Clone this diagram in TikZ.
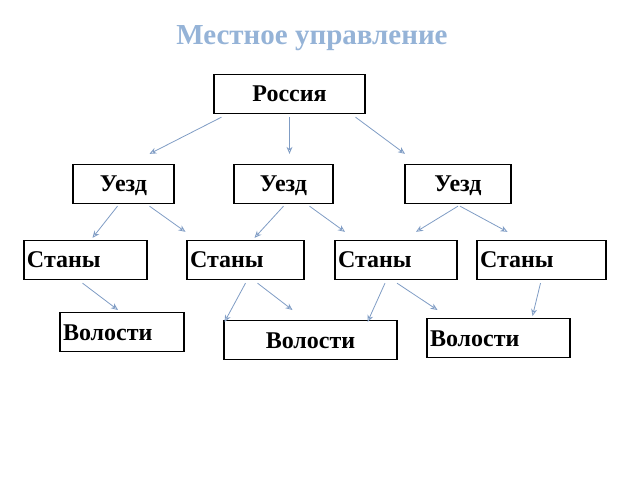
\documentclass[tikz,border=0pt]{standalone}
\usepackage{fontspec}
\setmainfont{Liberation Serif}
\usetikzlibrary{arrows.meta}
\definecolor{ttl}{HTML}{95B3D7}
\definecolor{arc}{HTML}{7F9CC4}
\begin{document}
\begin{tikzpicture}[x=1pt,y=-1pt,
 box/.style={draw=black,line width=1.3pt,minimum height=39pt,inner xsep=4pt,font=\bfseries\fontsize{24}{26}\selectfont,text depth=0pt},
 lbox/.style={box,align=left},
 arr/.style={draw=arc,line width=0.8pt,-{Stealth[length=7pt,width=6pt,open]}}]
\useasboundingbox (0,0) rectangle (640,480);
\node[font=\bfseries\fontsize{29}{32}\selectfont,text=ttl] (t) at (312,38) {Местное управление};
\node[box,minimum width=151pt] (r) at (289.5,94) {Россия};
\node[box,minimum width=101pt] (u1) at (123.5,184) {Уезд};
\node[box,minimum width=99pt] (u2) at (283.5,184) {Уезд};
\node[box,minimum width=106pt] (u3) at (458,184) {Уезд};
\node[lbox,text width=117pt,inner xsep=3pt] (s1) at (85.5,260) {Станы};
\node[lbox,text width=111pt,inner xsep=3pt] (s2) at (245.5,260) {Станы};
\node[lbox,text width=116pt,inner xsep=3pt] (s3) at (396,260) {Станы};
\node[lbox,text width=123pt,inner xsep=3pt] (s4) at (541.5,260) {Станы};
\node[lbox,text width=118pt,inner xsep=3pt,anchor=north] (v1) at (122,312) {Волости};
\node[box,minimum width=173pt,anchor=north] (v2) at (310.5,320) {Волости};
\node[lbox,text width=137pt,inner xsep=3pt,anchor=north] (v3) at (498.5,318) {Волости};
\draw[arr] ([xshift=-68pt,yshift=-3pt]r.south) -- ([xshift=26pt,yshift=10pt]u1.north);
\draw[arr] ([yshift=-3pt]r.south) -- ([xshift=6pt,yshift=10pt]u2.north);
\draw[arr] ([xshift=66pt,yshift=-3pt]r.south) -- ([xshift=-53pt,yshift=10pt]u3.north);
\draw[arr] ([xshift=-6pt,yshift=-2pt]u1.south) -- ([xshift=7pt,yshift=2pt]s1.north);
\draw[arr] ([xshift=26pt,yshift=-2pt]u1.south) -- ([xshift=-60pt,yshift=8pt]s2.north);
\draw[arr] ([xshift=0pt,yshift=-2pt]u2.south) -- ([xshift=9pt,yshift=2pt]s2.north);
\draw[arr] ([xshift=26pt,yshift=-2pt]u2.south) -- ([xshift=-51pt,yshift=8pt]s3.north);
\draw[arr] ([xshift=0pt,yshift=-2pt]u3.south) -- ([xshift=20pt,yshift=8pt]s3.north);
\draw[arr] ([xshift=2pt,yshift=-2pt]u3.south) -- ([xshift=-34pt,yshift=8pt]s4.north);
\draw[arr] ([xshift=-3pt,yshift=-3pt]s1.south) -- ([xshift=-4pt,yshift=2pt]v1.north);
\draw[arr] ([xshift=0pt,yshift=-3pt]s2.south) -- ([xshift=-86pt,yshift=-2pt]v2.north);
\draw[arr] ([xshift=12pt,yshift=-3pt]s2.south) -- ([xshift=-18pt,yshift=10pt]v2.north);
\draw[arr] ([xshift=-11pt,yshift=-3pt]s3.south) -- ([xshift=57pt,yshift=-2pt]v2.north);
\draw[arr] ([xshift=1pt,yshift=-3pt]s3.south) -- ([xshift=-61pt,yshift=8pt]v3.north);
\draw[arr] ([xshift=-1pt,yshift=-3pt]s4.south) -- ([xshift=34pt,yshift=2pt]v3.north);
\end{tikzpicture}
\end{document}
